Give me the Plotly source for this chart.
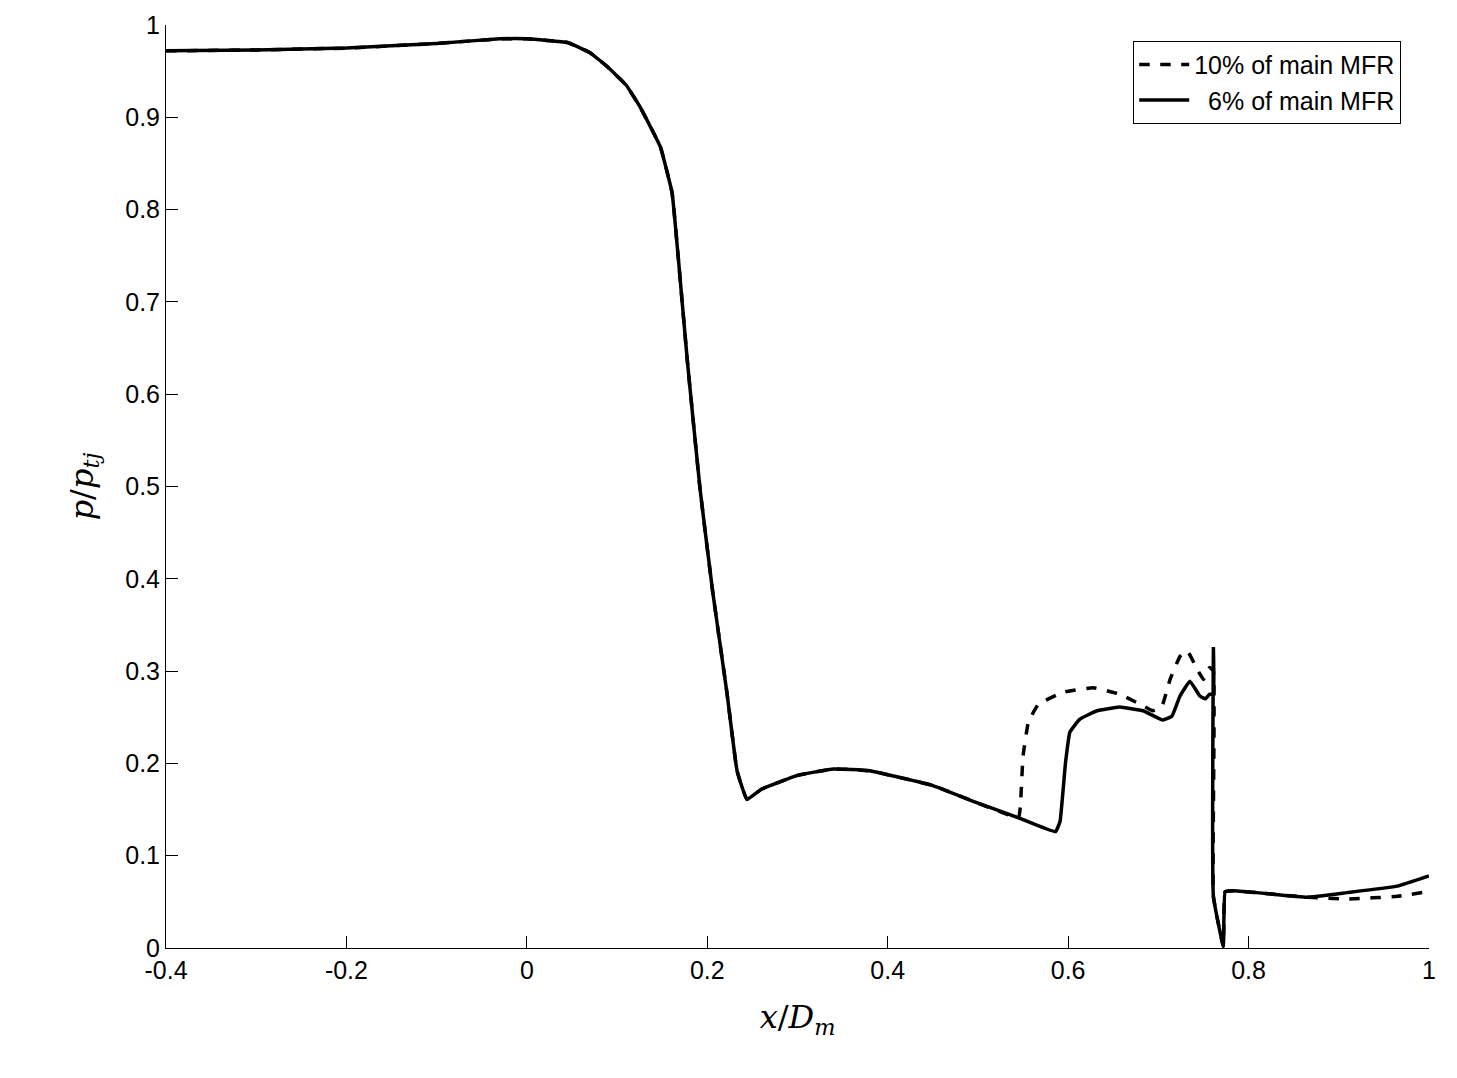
import plotly.graph_objects as go

# shared upstream part
x_common = [-0.4, -0.3, -0.2, -0.1, -0.03, 0.0, 0.045, 0.07, 0.089, 0.11, 0.125, 0.148, 0.161, 0.168, 0.178,
            0.192, 0.206, 0.222, 0.233, 0.244, 0.26, 0.3, 0.34, 0.38, 0.45, 0.5]
y_common = [0.972, 0.973, 0.975, 0.980, 0.985, 0.985, 0.981, 0.970, 0.955, 0.935, 0.912, 0.868, 0.818, 0.746, 0.635,
            0.497, 0.386, 0.275, 0.192, 0.161, 0.172, 0.187, 0.194, 0.192, 0.176, 0.157]

x_6 = [0.545, 0.586, 0.591, 0.597, 0.602, 0.613, 0.632, 0.657, 0.683, 0.705, 0.715, 0.724, 0.735, 0.746, 0.752,
       0.757, 0.761, 0.761, 0.761, 0.772, 0.774, 0.783, 0.809, 0.865, 0.909, 0.965, 1.0]
y_6 = [0.141, 0.126, 0.137, 0.200, 0.234, 0.248, 0.257, 0.261, 0.257, 0.247, 0.251, 0.273, 0.289, 0.273, 0.270,
       0.275, 0.275, 0.326, 0.056, 0.002, 0.061, 0.062, 0.060, 0.055, 0.060, 0.067, 0.078]

x_10 = [0.545, 0.547, 0.550, 0.556, 0.567, 0.594, 0.628, 0.657, 0.680, 0.694, 0.704, 0.713, 0.724, 0.732, 0.743,
        0.750, 0.757, 0.761, 0.761, 0.772, 0.774, 0.783, 0.809, 0.865, 0.909, 0.965, 0.998]
y_10 = [0.141, 0.153, 0.208, 0.245, 0.264, 0.277, 0.282, 0.275, 0.264, 0.257, 0.262, 0.291, 0.316, 0.322, 0.302,
        0.291, 0.304, 0.300, 0.056, 0.002, 0.061, 0.062, 0.060, 0.055, 0.053, 0.056, 0.061]

fig = go.Figure()
fig.add_trace(go.Scatter(x=x_common + x_10, y=y_common + y_10, mode="lines", name="10% of main MFR",
                         line=dict(color="black", width=3.5, dash="dash", shape="spline", smoothing=0.3)))
fig.add_trace(go.Scatter(x=x_common + x_6, y=y_common + y_6, mode="lines", name="\u00a0\u00a06% of main MFR",
                         line=dict(color="black", width=3.5, shape="spline", smoothing=0.3)))

axis_font = dict(family="Liberation Sans, Arial", size=25, color="black")
fig.update_layout(
    width=1457, height=1078, paper_bgcolor="white", plot_bgcolor="white",
    margin=dict(l=158, r=36, t=17, b=138, autoexpand=False),
    xaxis=dict(range=[-0.4, 1], tickvals=[-0.4, -0.2, 0, 0.2, 0.4, 0.6, 0.8, 1],
               ticktext=["-0.4", "-0.2", "0", "0.2", "0.4", "0.6", "0.8", "1"],
               showgrid=False, zeroline=False, showline=True, linecolor="black", linewidth=1,
               ticks="inside", ticklen=12, tickcolor="black", tickfont=axis_font,
               title=dict(text="<i>x</i>/<i>D</i><sub><i>m</i></sub>", standoff=22,
                          font=dict(family="DejaVu Serif", size=32, color="black"))),
    yaxis=dict(range=[0, 1], tickvals=[i / 10 for i in range(11)],
               ticktext=["0", "0.1", "0.2", "0.3", "0.4", "0.5", "0.6", "0.7", "0.8", "0.9", "1"],
               showgrid=False, zeroline=False, showline=True, linecolor="black", linewidth=1,
               ticks="inside", ticklen=12, tickcolor="black", tickfont=axis_font,
               title=dict(text="<i>p</i>/<i>p</i><sub><i>tj</i></sub>", standoff=22,
                          font=dict(family="DejaVu Serif", size=32, color="black"))),
    legend=dict(x=0.978, y=0.983, xanchor="right", yanchor="top", bgcolor="white",
                bordercolor="black", borderwidth=1, font=dict(family="Liberation Sans, Arial", size=25, color="black"),
                itemwidth=50),
    showlegend=True,
)
fig.write_html("out.html")
